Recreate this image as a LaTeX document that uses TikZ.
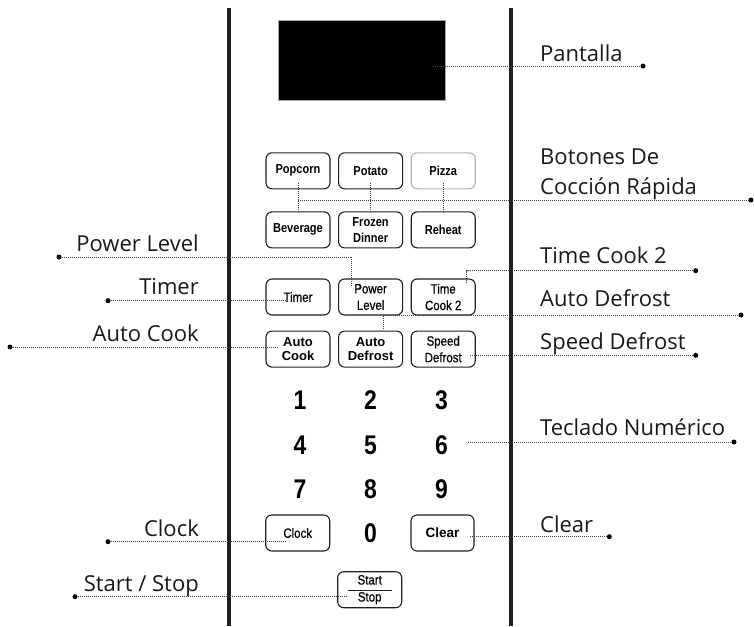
\documentclass[tikz,border=0pt]{standalone}
\usepackage{fontspec}
\setmainfont{Open Sans}
\newfontfamily\keyfont[FakeStretch=0.85]{Liberation Sans}
\newfontfamily\keymidfont[FakeStretch=0.85,FakeBold=0.7]{Liberation Sans}
\newfontfamily\keyboldfont{Liberation Sans}
\usetikzlibrary{positioning, calc}
\definecolor{panel_dark}{HTML}{231F20}
\colorlet{paneldark}{panel_dark}
\tikzset{
  btn/.style={rectangle,draw=paneldark,line width=1.1pt,rounded corners=6pt,minimum width=64pt,minimum height=36pt,inner sep=1pt,align=center,font=\keymidfont\fontsize{13.5}{16.5}\selectfont},
  btnquick/.style={btn,font=\keyfont\bfseries\fontsize{13}{16}\selectfont},
  btnbold/.style={btn,font=\keyboldfont\bfseries\fontsize{13}{13.5}\selectfont},
  digit/.style={inner sep=0pt,font=\keyfont\bfseries\fontsize{27}{27}\selectfont},
  lbl/.style={inner sep=0pt,text=black!90,font=\fontsize{22}{30}\selectfont},
  lblr/.style={lbl,anchor=base west},
  lbll/.style={lbl,anchor=base east},
  leader/.style={line width=0.9pt,black!75,dash pattern=on 1pt off 1pt},
  bullet/.style={circle,fill=black,inner sep=0pt,minimum size=5pt},
  panelline/.style={line width=4pt,paneldark},
}

\begin{document}
\begin{tikzpicture}[x=1pt,y=-1pt]
	\useasboundingbox (0,0) rectangle (754,626);
	\draw[panelline] (229,8) -- (229,626);
	\draw[panelline] (511,8) -- (511,626);
	\node[rectangle,draw=gray!70,fill=black,line width=0.8pt,minimum width=167pt,minimum height=80pt] (Screen) at (361.5,60.5) {};
	\node[btnquick] (Popcorn) at (298,170.8) {Popcorn};
	\node[btnquick,right=7.5pt of Popcorn] (Potato) {Potato};
	\node[btnquick,draw=gray!60,right=7.5pt of Potato] (Pizza) {Pizza};
	\node[btnquick,below=22pt of Popcorn] (Beverage) {Beverage};
	\node[btnquick,below=22pt of Potato] (Frozen) {Frozen\\Dinner};
	\node[btnquick,below=22pt of Pizza] (Reheat) {Reheat};
	\node[btn,below=30pt of Beverage] (Timer) {Timer};
	\node[btn,below=30pt of Frozen] (Power) {Power\\Level};
	\node[btn,below=30pt of Reheat] (TimeCook) {Time\\Cook 2};
	\node[btnbold,below=15pt of Timer] (AutoCook) {Auto\\Cook};
	\node[btnbold,below=15pt of Power] (AutoDefrost) {Auto\\Defrost};
	\node[btn,below=15pt of TimeCook] (SpeedDefrost) {Speed\\Defrost};
	\foreach \d/\x/\y in {1/300/400,2/370.5/400,3/441.5/400,4/300/445,5/370.5/445,6/441.5/445,7/300/489.5,8/370.5/489.5,9/441.5/489.5,0/370.5/533.5}
		\node[digit] (D\d) at (\x,\y) {\d};
	\node[btn] (Clock) at (297.7,533) {Clock};
	\node[btnbold,minimum width=63pt,font=\keyboldfont\bfseries\fontsize{13.5}{14}\selectfont] (Clear) at (442.5,533) {Clear};
	\node[btn,font=\keymidfont\fontsize{13.5}{17}\selectfont] (StartStop) at (369.7,589.7) {Start\\Stop};
	\draw[line width=1.3pt,paneldark] ($(StartStop.center)+(-22,0.5)$) -- ($(StartStop.center)+(22,0.5)$);

	\node[lblr] (LScreen) at (540,61) {Pantalla};
	\node[lbl,anchor=north west,align=left] (LQuick) at (540,148.3) {Botones De\\Cocción Rápida};
	\node[lblr] (LTimeCook) at (540,263) {Time Cook 2};
	\node[lblr] (LAutoDefrost) at (540,306) {Auto Defrost};
	\node[lblr] (LSpeedDefrost) at (540,349.3) {Speed Defrost};
	\node[lblr] (LKeypad) at (540,435) {Teclado Numérico};
	\node[lblr] (LClear) at (540,532.7) {Clear};
	\node[lbll] (LPower) at (199,251.7) {Power Level};
	\node[lbll] (LTimer) at (199,294) {Timer};
	\node[lbll] (LAutoCook) at (199,341.7) {Auto Cook};
	\node[lbll] (LClock) at (199,536) {Clock};
	\node[lbll] (LStartStop) at (199,591.7) {Start / Stop};

	\node[bullet] (dScreen) at (643,66) {};
	\node[bullet] (dQuick) at (751,200) {};
	\node[bullet] (dTimeCook) at (695.7,270.7) {};
	\node[bullet] (dAutoDefrost) at (741,315) {};
	\node[bullet] (dSpeedDefrost) at (695.7,355.3) {};
	\node[bullet] (dKeypad) at (734,442) {};
	\node[bullet] (dClear) at (609.3,536.7) {};
	\node[bullet] (dPower) at (59,257) {};
	\node[bullet] (dTimer) at (108,300.7) {};
	\node[bullet] (dAutoCook) at (10,347) {};
	\node[bullet] (dClock) at (108,541.7) {};
	\node[bullet] (dStartStop) at (75,596.7) {};
	\coordinate (pScreen) at (433,66);
	\coordinate (pTimeCook) at (466.7,283.3);
	\coordinate (pAutoDefrost) at (383.3,329);
	\coordinate (pSpeedDefrost) at (470,355.3);
	\coordinate (pKeypad) at (468.3,442);
	\coordinate (pClear) at (470,536.7);
	\coordinate (pPower) at (351.7,286.7);
	\coordinate (pTimer) at (285,300.7);
	\coordinate (pAutoCook) at (277,347);
	\coordinate (pClock) at (285,541.7);
	\coordinate (pStartStop) at (346.7,596.7);

	\draw[leader] (pScreen) -- (dScreen);
	\draw[leader] ($(Popcorn.south)+(0,-6)$) -- ($(Beverage.north)+(0,2)$);
	\draw[leader] ($(Potato.south)+(0,-6)$) -- ($(Frozen.north)+(0,2)$);
	\draw[leader] ($(Pizza.south)+(0,-6)$) -- ($(Reheat.north)+(0,2)$);
	\draw[leader] (Popcorn |- dQuick) -- (dQuick);
	\draw[leader] (pTimeCook) |- (dTimeCook);
	\draw[leader] (pAutoDefrost) |- (dAutoDefrost);
	\draw[leader] (pSpeedDefrost) -- (dSpeedDefrost);
	\draw[leader] (pKeypad) -- (dKeypad);
	\draw[leader] (pClear) -- (dClear);
	\draw[leader] (dPower) -| (pPower);
	\draw[leader] (dTimer) -- (pTimer);
	\draw[leader] (dAutoCook) -- (pAutoCook);
	\draw[leader] (dClock) -- (pClock);
	\draw[leader] (dStartStop) -- (pStartStop);
\end{tikzpicture}
\end{document}
